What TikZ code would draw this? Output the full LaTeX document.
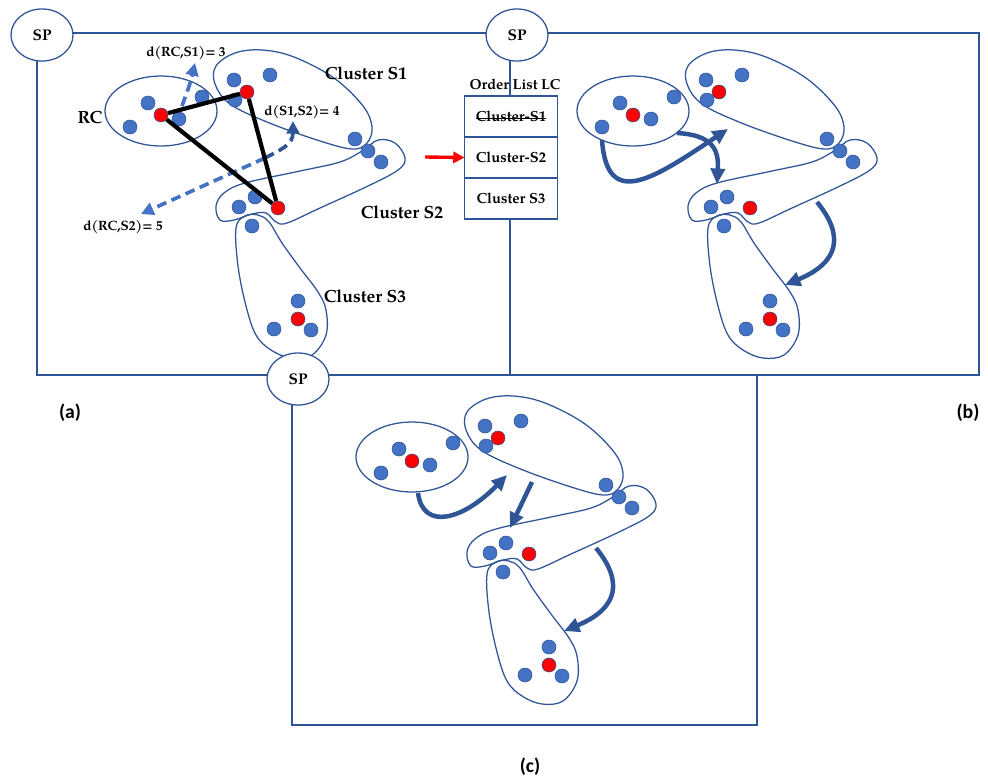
\documentclass[tikz,border=0pt]{standalone}
\usepackage{fontspec}
\setmainfont{TeX Gyre Pagella}
\newfontfamily\panelfont{Carlito}
\usetikzlibrary{arrows.meta, positioning, shapes.geometric}

\definecolor{dotblue}{RGB}{68,114,196}
\definecolor{lineblue}{RGB}{47,85,151}

\tikzset{
    outline/.style={draw=lineblue, line width=0.9pt},
    bluedot/.style={circle, draw=lineblue, line width=0.4pt, fill=dotblue, minimum size=0.35cm, inner sep=0pt},
    reddot/.style={bluedot, fill=red},
    pics/clusters/.style={code={
        % RC and clusters S1, S2, S3
        \draw[outline] (161,111) ellipse [x radius=56, y radius=35];
        \draw[outline] plot[smooth cycle, tension=0.6] coordinates {(216,66) (235,53) (262,50) (294,57) (334,78) (363,106) (372,127) (367,143) (352,149) (317,140) (267,122) (230,104) (215,84)};
        \draw[outline] plot[smooth cycle, tension=0.6] coordinates {(216,206) (224,193) (245,183) (300,171) (340,162) (362,151) (378,140) (395,143) (405,158) (398,170) (368,186) (320,208) (287,223) (276,222) (266,213) (252,214) (234,220) (220,220)};
        \draw[outline] plot[smooth cycle, tension=0.6] coordinates {(236,228) (238,266) (246,306) (256,335) (271,350) (291,358) (312,355) (326,335) (326,310) (318,292) (300,268) (282,243) (269,222) (258,215) (245,216)};
        % members
        \foreach \p [count=\k] in {(148,103),(130,127),(202,97),(179,119),
                                   (234,80),(270,75),(235,100),(355,139),
                                   (368,151),(381,162),(239,207),(255,197),
                                   (252,226),(298,301),(274,329),(311,330)}
            \node[bluedot] (-m\k) at \p {};
        % cluster heads
        \node[reddot] (-rc) at (161,115) {};
        \node[reddot] (-s1) at (247,92) {};
        \node[reddot] (-s2) at (278,208) {};
        \node[reddot] (-s3) at (298,319) {};
        % ends of the flow arrows
        \coordinate (-rcsw) at (130,140);
        \coordinate (-rcs) at (167,147);
        \coordinate (-rcse) at (205,133);
        \coordinate (-s1sw) at (256,129);
        \coordinate (-s1s) at (281,136);
        \coordinate (-s2n) at (245,184);
        \coordinate (-s2nn) at (259,182);
        \coordinate (-s2se) at (345,202);
        \coordinate (-s3e) at (313,285);
    }}
}

\begin{document}
\begin{tikzpicture}[x=0.025cm, y=-0.025cm,
    frame/.style={draw=lineblue, line width=1.2pt},
    spnode/.style={ellipse, draw=lineblue, line width=0.9pt, fill=white, minimum width=1.55cm, minimum height=1.3cm, inner sep=0pt, font=\bfseries\fontsize{11}{13}\selectfont},
    cell/.style={draw=lineblue, line width=1.1pt, fill=white, minimum width=2.325cm, minimum height=1.025cm, outer sep=0pt},
    celltext/.style={inner sep=0pt, font=\bfseries\fontsize{10.4}{12}\selectfont},
    flow/.style={lineblue, line width=3.2pt, -{Triangle[length=11pt,width=10pt]}},
    dist/.style={dotblue, line width=2.6pt, dash pattern=on 7pt off 4pt, -{Triangle[length=9pt,width=9pt]}},
    tri/.style={black, line width=3pt},
    bigtext/.style={font=\bfseries\fontsize{12.5}{14}\selectfont},
    smalltext/.style={font=\bfseries\fontsize{9.6}{12}\selectfont},
    paneltext/.style={font=\panelfont\bfseries\fontsize{14}{16}\selectfont}]
    \useasboundingbox (0,0) rectangle (988,779);

    % frames
    \draw[frame] (37,33) rectangle (979,375);
    \draw[frame] (510,33) -- (510,375);
    \draw[frame] (292,375) rectangle (757,725);

    % the three panels
    \pic (pa) at (0,0) {clusters};
    \pic (pb) at (472,0) {clusters};
    \pic (pc) at (251,346) {clusters};

    % distances in (a)
    \coordinate (dsplit) at (265,158);
    \coordinate (dup) at (293,121);
    \coordinate (ddown) at (141,214);
    \coordinate (d1s) at (182,106);
    \coordinate (d1e) at (195,63);
    \draw[dist] (d1s) .. controls (190,84) .. (d1e);
    \draw[dist] (dsplit) -- (ddown);
    \draw[dist, lineblue] (dsplit) .. controls (280,150) and (293,145) .. (dup);
    \draw[tri] (pa-rc) -- (pa-s1);
    \draw[tri] (pa-s1) -- (pa-s2);
    \draw[tri] (pa-s2) -- (pa-rc);

    \node[smalltext] (drcs1) at (186,53) {d(RC,S1)= 3};
    \node[smalltext] (ds1s2) at (302,112) {d(S1,S2)= 4};
    \node[smalltext] (drcs2) at (123,227) {d(RC,S2)= 5};
    \node[bigtext] (rclbl) at (90,118) {RC};
    \node[bigtext] (s1lbl) at (366,73) {Cluster S1};
    \node[bigtext] (s2lbl) at (402,212) {Cluster S2};
    \node[bigtext] (s3lbl) at (365,296) {Cluster S3};

    % visiting order in (b)
    \draw[flow] (pb-rcsw) .. controls +(5,70) and +(-75,50) .. (pb-s1sw);
    \draw[flow] (pb-rcse) .. controls +(35,2) and +(2,-35) .. (pb-s2n);
    \draw[flow] (pb-s2se) .. controls +(27,33) and +(55,-23) .. (pb-s3e);

    % visiting order in (c)
    \draw[flow] (pc-rcs) .. controls +(5,38) and +(-44,45) .. (pc-s1sw);
    \draw[flow] (pc-s1s) -- (pc-s2nn);
    \draw[flow] (pc-s2se) .. controls +(27,33) and +(55,-23) .. (pc-s3e);

    % ordered list
    \node[font=\bfseries\fontsize{10.3}{12}\selectfont] (lsttitle) at (515,84) {Order List LC};
    \node[cell] (l1) at (511,116.5) {};
    \node[cell, below=0pt of l1] (l2) {};
    \node[cell, below=0pt of l2] (l3) {};
    \node[celltext] (t1) at (l1) {Cluster-S1};
    \node[celltext] (t2) at (l2) {Cluster-S2};
    \node[celltext] (t3) at (l3) {Cluster S3};
    \draw[line width=0.7pt] (t1.mid west) -- (t1.mid east);
    \coordinate (cue) at (425,157);
    \draw[red, line width=2.4pt, -{Triangle[length=8pt,width=8pt]}] (cue) -- (l2.west);

    % SP nodes
    \node[spnode] (spa) at (42,35) {SP};
    \node[spnode] (spb) at (517,35) {SP};
    \node[spnode] (spc) at (298,379) {SP};

    \node[paneltext] (pla) at (70,413) {(a)};
    \node[paneltext] (plb) at (968,413) {(b)};
    \node[paneltext] (plc) at (530,767) {(c)};
\end{tikzpicture}
\end{document}
